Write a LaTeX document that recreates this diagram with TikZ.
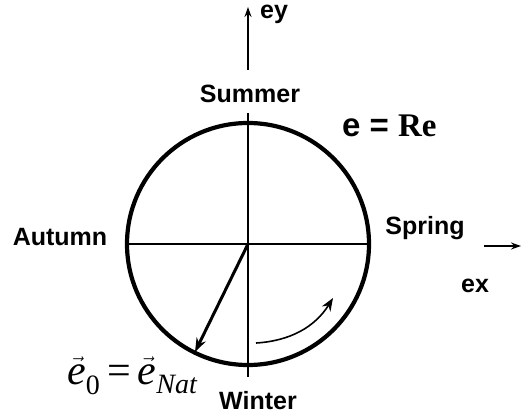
\documentclass[tikz,border=0pt]{standalone}
\usepackage{fontspec}
\setmainfont{Liberation Sans}
\newfontfamily\tms{Liberation Serif}
\usetikzlibrary{arrows.meta}
\begin{document}
\begin{tikzpicture}[x=1pt,y=-1pt,
  lbl/.style={font=\fontsize{25}{28}\selectfont\bfseries, inner sep=0pt, anchor=base, text depth=0pt},
  axis/.style={line width=1.5pt},
  arr/.style={-{Stealth[length=14pt,width=10pt]}}]
\useasboundingbox (0,0) rectangle (522,414);
\coordinate (O) at (248,244);
\node[draw, circle, line width=4.2pt, minimum size=242pt, inner sep=0pt] (C) at (O) {};
\draw[axis] (C.west) -- (C.east);
\coordinate (vt) at (248,113);
\coordinate (vb) at (248,377);
\draw[axis] (vt) -- (vb);
% ey axis arrow
\coordinate (eyA) at (248,70);
\coordinate (eyB) at (248,7);
\draw[axis,-{Stealth[length=10pt,width=7pt]}] (eyA) -- (eyB);
\node[lbl, anchor=base west, text height=14pt] (ey) at (260,19) {ey};
% ex axis arrow
\coordinate (exA) at (484,246);
\coordinate (exB) at (521,246);
\draw[axis,-{Stealth[length=10pt,width=7pt]}] (exA) -- (exB);
\node[lbl] (ex) at (475,292) {ex};
% season labels
\node[lbl] (summer) at (250,103) {Summer};
\node[lbl, text height=17pt] (winter) at (258,409) {Winter};
\node[lbl] (autumn) at (60,245) {Autumn};
\node[lbl] (spring) at (425,235) {Spring};
% e = Re
\node[inner sep=0pt, anchor=base west] (eRe) at (342,137)
  {\fontsize{33}{36}\selectfont\bfseries e = {\tms\bfseries Re}};
% e0 vector
\coordinate (tip) at (195,352);
\draw[line width=3pt, arr] (O) -- (tip);
% rotation arrow
\coordinate (rA) at (256,343);
\coordinate (rB) at (333,298);
\draw[line width=1.6pt, -{Stealth[length=13pt,width=10pt]}] (rA) .. controls (290,341) and (315,327) .. (rB);
% e0 = eNat label
\node[inner sep=0pt, anchor=base west] (e0) at (67,384)
  {\fontsize{42}{46}\selectfont$\vec{\hbox{\tms\itshape e}}_{\hbox{\tms\fontsize{28}{30}\selectfont 0}}\mathrel{\hbox{\tms =}}\vec{\hbox{\tms\itshape e}}_{\hbox{\tms\itshape\fontsize{28}{30}\selectfont Nat}}$};
\end{tikzpicture}
\end{document}
